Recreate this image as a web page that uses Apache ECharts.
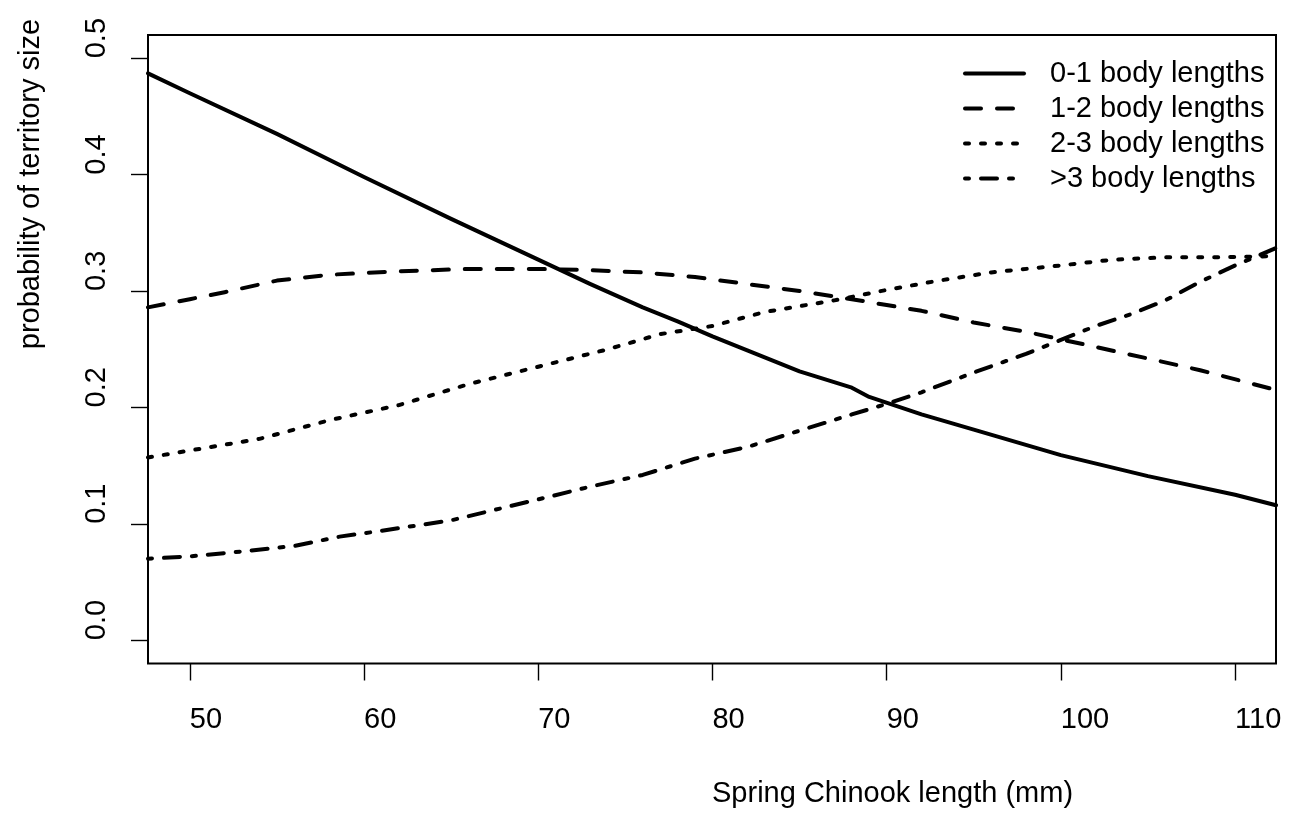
<!DOCTYPE html>
<html>
<head>
<meta charset="utf-8">
<script src="https://cdn.jsdelivr.net/npm/echarts@6/dist/echarts.min.js"></script>
<style>
  html, body { margin: 0; padding: 0; background: #fff; }
  #chart { width: 1299px; height: 813px; }
</style>
</head>
<body>
<div id="chart"></div>
<script>
// ---- data ----
const seriesNames = ['0-1 body lengths', '1-2 body lengths', '2-3 body lengths', '>3 body lengths'];

const len01 = [47.6, 50, 55, 60, 65, 70, 73, 76, 78, 80, 82, 85, 88, 89, 92, 95, 100, 105, 110, 112.35];
const prob01 = [0.487, 0.470, 0.435, 0.398, 0.362, 0.327, 0.306, 0.286, 0.274, 0.261, 0.249, 0.231, 0.217, 0.209, 0.194, 0.181, 0.159, 0.141, 0.125, 0.116];

const len12 = [47.6, 50, 52, 55, 58, 62, 66, 70, 73, 76, 79, 82, 85, 88, 90, 92, 95, 98, 102, 105, 108, 112.35];
const prob12 = [0.286, 0.293, 0.299, 0.309, 0.314, 0.317, 0.319, 0.319, 0.318, 0.316, 0.312, 0.306, 0.300, 0.293, 0.288, 0.283, 0.273, 0.265, 0.252, 0.242, 0.232, 0.215];

const len23 = [47.6, 50, 54, 58, 62, 66, 70, 74, 77, 80, 83, 87, 90, 93, 96, 100, 103, 106, 109, 112.35];
const prob23 = [0.157, 0.163, 0.173, 0.189, 0.202, 0.220, 0.235, 0.250, 0.263, 0.270, 0.282, 0.292, 0.301, 0.309, 0.316, 0.322, 0.327, 0.329, 0.329, 0.330];

const len3p = [47.6, 50, 53.5, 56, 58.6, 61, 65, 70, 73, 76, 79, 82, 85, 88, 90, 92, 95, 98, 100, 102, 104, 106, 108, 110, 112.35];
const prob3p = [0.070, 0.072, 0.077, 0.081, 0.089, 0.094, 0.103, 0.121, 0.132, 0.142, 0.156, 0.166, 0.180, 0.194, 0.203, 0.213, 0.230, 0.246, 0.258, 0.270, 0.280, 0.292, 0.308, 0.322, 0.337];

const xTicks = [50, 60, 70, 80, 90, 100, 110];
const yTicks = [0, 0.1, 0.2, 0.3, 0.4, 0.5];

const xTitle = 'Spring Chinook length (mm)';
const yTitle = 'probability of territory size';

// ---- chart ----
const FONT = '"Liberation Sans", Arial, Helvetica, sans-serif';
const zip = (xs, ys) => xs.map((x, i) => [x, ys[i]]);
const dashes = ['solid', [16, 16], [4, 12], [4, 12, 16, 12]];
const dataSets = [zip(len01, prob01), zip(len12, prob12), zip(len23, prob23), zip(len3p, prob3p)];

const chart = echarts.init(document.getElementById('chart'), null, { renderer: 'canvas' });
chart.setOption({
  animation: false,
  backgroundColor: '#ffffff',
  textStyle: { fontFamily: FONT, color: '#000' },
  grid: {
    left: 148, right: 23, top: 35, bottom: 148,
    show: true, borderColor: '#000', borderWidth: 2, backgroundColor: 'transparent'
  },
  legend: {
    orient: 'vertical',
    left: 963, top: 58,
    padding: 0,
    itemGap: 4,
    itemWidth: 59,
    itemHeight: 29,
    data: seriesNames,
    itemStyle: { color: 'rgba(0,0,0,0)', borderWidth: 0, opacity: 0 },
    lineStyle: { width: 4, color: '#000', cap: 'round', join: 'round' },
    textStyle: { fontFamily: FONT, fontSize: 29, color: '#000', lineHeight: 29, padding: [2, 0, 0, 21] }
  },
  xAxis: {
    type: 'value',
    min: 47.6, max: 112.35,
    name: xTitle,
    nameLocation: 'middle',
    nameGap: 130,
    nameTextStyle: { fontFamily: FONT, fontSize: 29, color: '#000', align: 'left', verticalAlign: 'middle' },
    axisLine: { show: false, onZero: false },
    splitLine: { show: false },
    axisTick: { show: true, length: 17, lineStyle: { color: '#000', width: 1.4 }, customValues: xTicks },
    axisLabel: {
      customValues: xTicks,
      fontFamily: FONT, fontSize: 29, color: '#000',
      align: 'left', verticalAlign: 'middle', margin: 56,
      formatter: v => String(v)
    }
  },
  yAxis: {
    type: 'value',
    min: -0.02, max: 0.52,
    name: yTitle,
    nameLocation: 'middle',
    nameGap: 117,
    nameRotate: 90,
    nameTextStyle: { fontFamily: FONT, fontSize: 29, color: '#000', align: 'left', verticalAlign: 'middle' },
    axisLine: { show: false, onZero: false },
    splitLine: { show: false },
    axisTick: { show: true, length: 17, lineStyle: { color: '#000', width: 1.4 }, customValues: yTicks },
    axisLabel: {
      customValues: yTicks,
      fontFamily: FONT, fontSize: 29, color: '#000',
      rotate: 90, align: 'left', verticalAlign: 'middle', margin: 51,
      formatter: v => v.toFixed(1)
    }
  },
  series: seriesNames.map((name, i) => ({
    name: name,
    type: 'line',
    data: dataSets[i],
    symbol: 'none',
    showSymbol: false,
    clip: true,
    lineStyle: { color: '#000', width: 4, type: dashes[i], cap: 'round', join: 'round' },
    itemStyle: { color: '#000' }
  }))
});
</script>
</body>
</html>
